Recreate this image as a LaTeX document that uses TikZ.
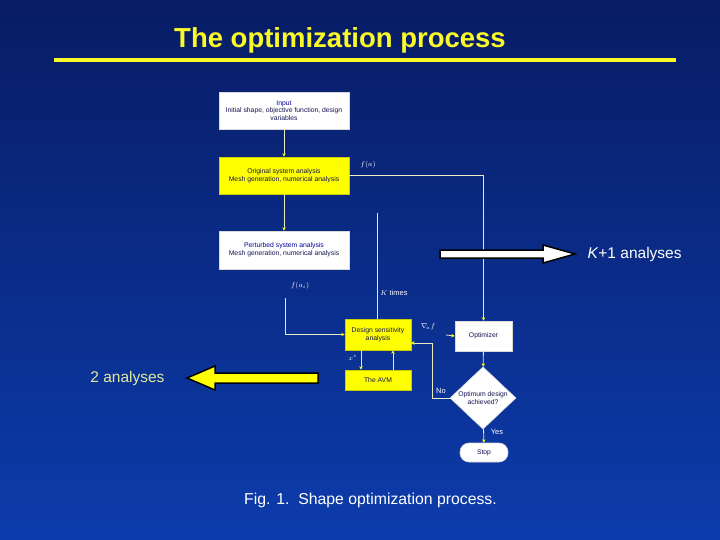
\documentclass[tikz,border=0pt]{standalone}
\usepackage{fontspec}
\setmainfont{Liberation Sans}
\usetikzlibrary{shapes.geometric,arrows.meta}
\definecolor{bgtop}{RGB}{8,28,100}
\definecolor{bgbot}{RGB}{12,60,172}
\definecolor{ttl}{RGB}{250,250,40}
\definecolor{boxy}{RGB}{255,255,0}
\definecolor{lnc}{RGB}{235,235,190}
\definecolor{tnavy}{RGB}{20,20,80}
\definecolor{lbl}{RGB}{225,235,160}
\tikzset{
  box/.style={draw=white!85!black, line width=0.6pt, fill=white, text=tnavy, font=\fontsize{6.8}{7.8}\selectfont, align=center, inner sep=0pt},
  ybox/.style={box, fill=boxy, draw=boxy!80!black},
  conn/.style={draw=lnc, line width=0.8pt, -{Stealth[length=3.5pt,width=3.5pt,fill=boxy,color=boxy]}},
  plain/.style={draw=lnc, line width=0.8pt},
  lab/.style={text=white, font=\fontsize{7.5}{8.5}\selectfont},
  big/.style={font=\fontsize{15.5}{18}\selectfont},
}
\begin{document}
\begin{tikzpicture}[x=1pt,y=-1pt]
\shade[top color=bgtop, bottom color=bgbot] (0,0) rectangle (720,540);
\useasboundingbox (0,0) rectangle (720,540);
% title
\node[text=ttl, font=\fontsize{27.5}{32}\selectfont\bfseries] (title) at (340,40) {The optimization process};
\draw[ttl, line width=4pt] (54,60) -- (676,60);
% boxes
\node[box, minimum width=130, minimum height=37] (inp) at (284,110.5) {{\color{blue!60!black}Input}\\Initial shape, objective function, design\\variables};
\node[ybox, minimum width=130, minimum height=37] (orig) at (284,175.5) {Original system analysis\\Mesh generation, numerical analysis};
\node[box, minimum width=130, minimum height=38] (pert) at (284,250) {{\color{blue!60!black}Perturbed system analysis}\\Mesh generation, numerical analysis};
\node[ybox, minimum width=66, minimum height=31] (dsa) at (378,334.5) {Design sensitivity\\analysis};
\node[ybox, minimum width=66, minimum height=20] (avm) at (378,380) {The AVM};
\node[box, minimum width=57, minimum height=30] (opt) at (483.5,336) {Optimizer};
\node[box, shape=diamond, minimum width=66, minimum height=52] (dia) at (483,398) {Optimum design\\achieved?};
\node[box, rounded corners=9pt, minimum width=48, minimum height=19] (stop) at (484,452.5) {Stop};
% labels
\node[lab] (lfa) at (368,165) {$f(a)$};
\node[lab] (lfai) at (300,286) {$f(a_i)$};
\node[lab] (lk) at (394,293) {$K$ times};
\node[lab] (lgrad) at (428,327) {$\nabla_{\!a} f$};
\node[lab] (lx) at (353,358) {$x^*$};
\node[lab] (lno) at (441,391) {No};
\node[lab] (lyes) at (497,432) {Yes};
% connectors
\draw[conn] (inp) -- (orig);
\draw[conn] (orig) -- (pert);
\draw[conn] (orig.east) -| (opt.north);
\coordinate (fstart) at (285,298);
\draw[conn] (fstart) |- (dsa.west);
\coordinate (ktop) at (377,213);
\draw[plain] (ktop) -- (ktop |- dsa.north);
\coordinate (gstart) at (446,335);
\draw[conn] (gstart) -- (opt.west);
\draw[conn] (opt) -- (dia);
\coordinate (noin) at (411,343);
\draw[conn] (dia.west) -- ++(-17,0) |- (noin);
\draw[conn] (dia) -- (stop);
\draw[conn] ([xshift=-17pt]dsa.south) -- ([xshift=-17pt]avm.north);
\draw[conn] ([xshift=15pt]avm.north) -- ([xshift=15pt]dsa.south);
% big arrows
\node[text=white, big, anchor=west] (kan) at (584,254) {\textit{K}+1 analyses};
\filldraw[fill=white, draw=black, line width=1.5pt] (440,250) -- (543,250) -- (543,245) -- (575,254) -- (543,263) -- (543,258) -- (440,258) -- cycle;
\node[text=lbl, big, anchor=east] (tan) at (168,378) {2 analyses};
\filldraw[fill=boxy, draw=black, line width=1.5pt] (318,373) -- (215,373) -- (215,366) -- (187,378) -- (215,390) -- (215,383) -- (318,383) -- cycle;
% caption
\node[text=white, font=\fontsize{15.8}{18}\selectfont] (cap) at (370.5,500) {Fig. 1.\ \ Shape optimization process.};
\end{tikzpicture}
\end{document}
